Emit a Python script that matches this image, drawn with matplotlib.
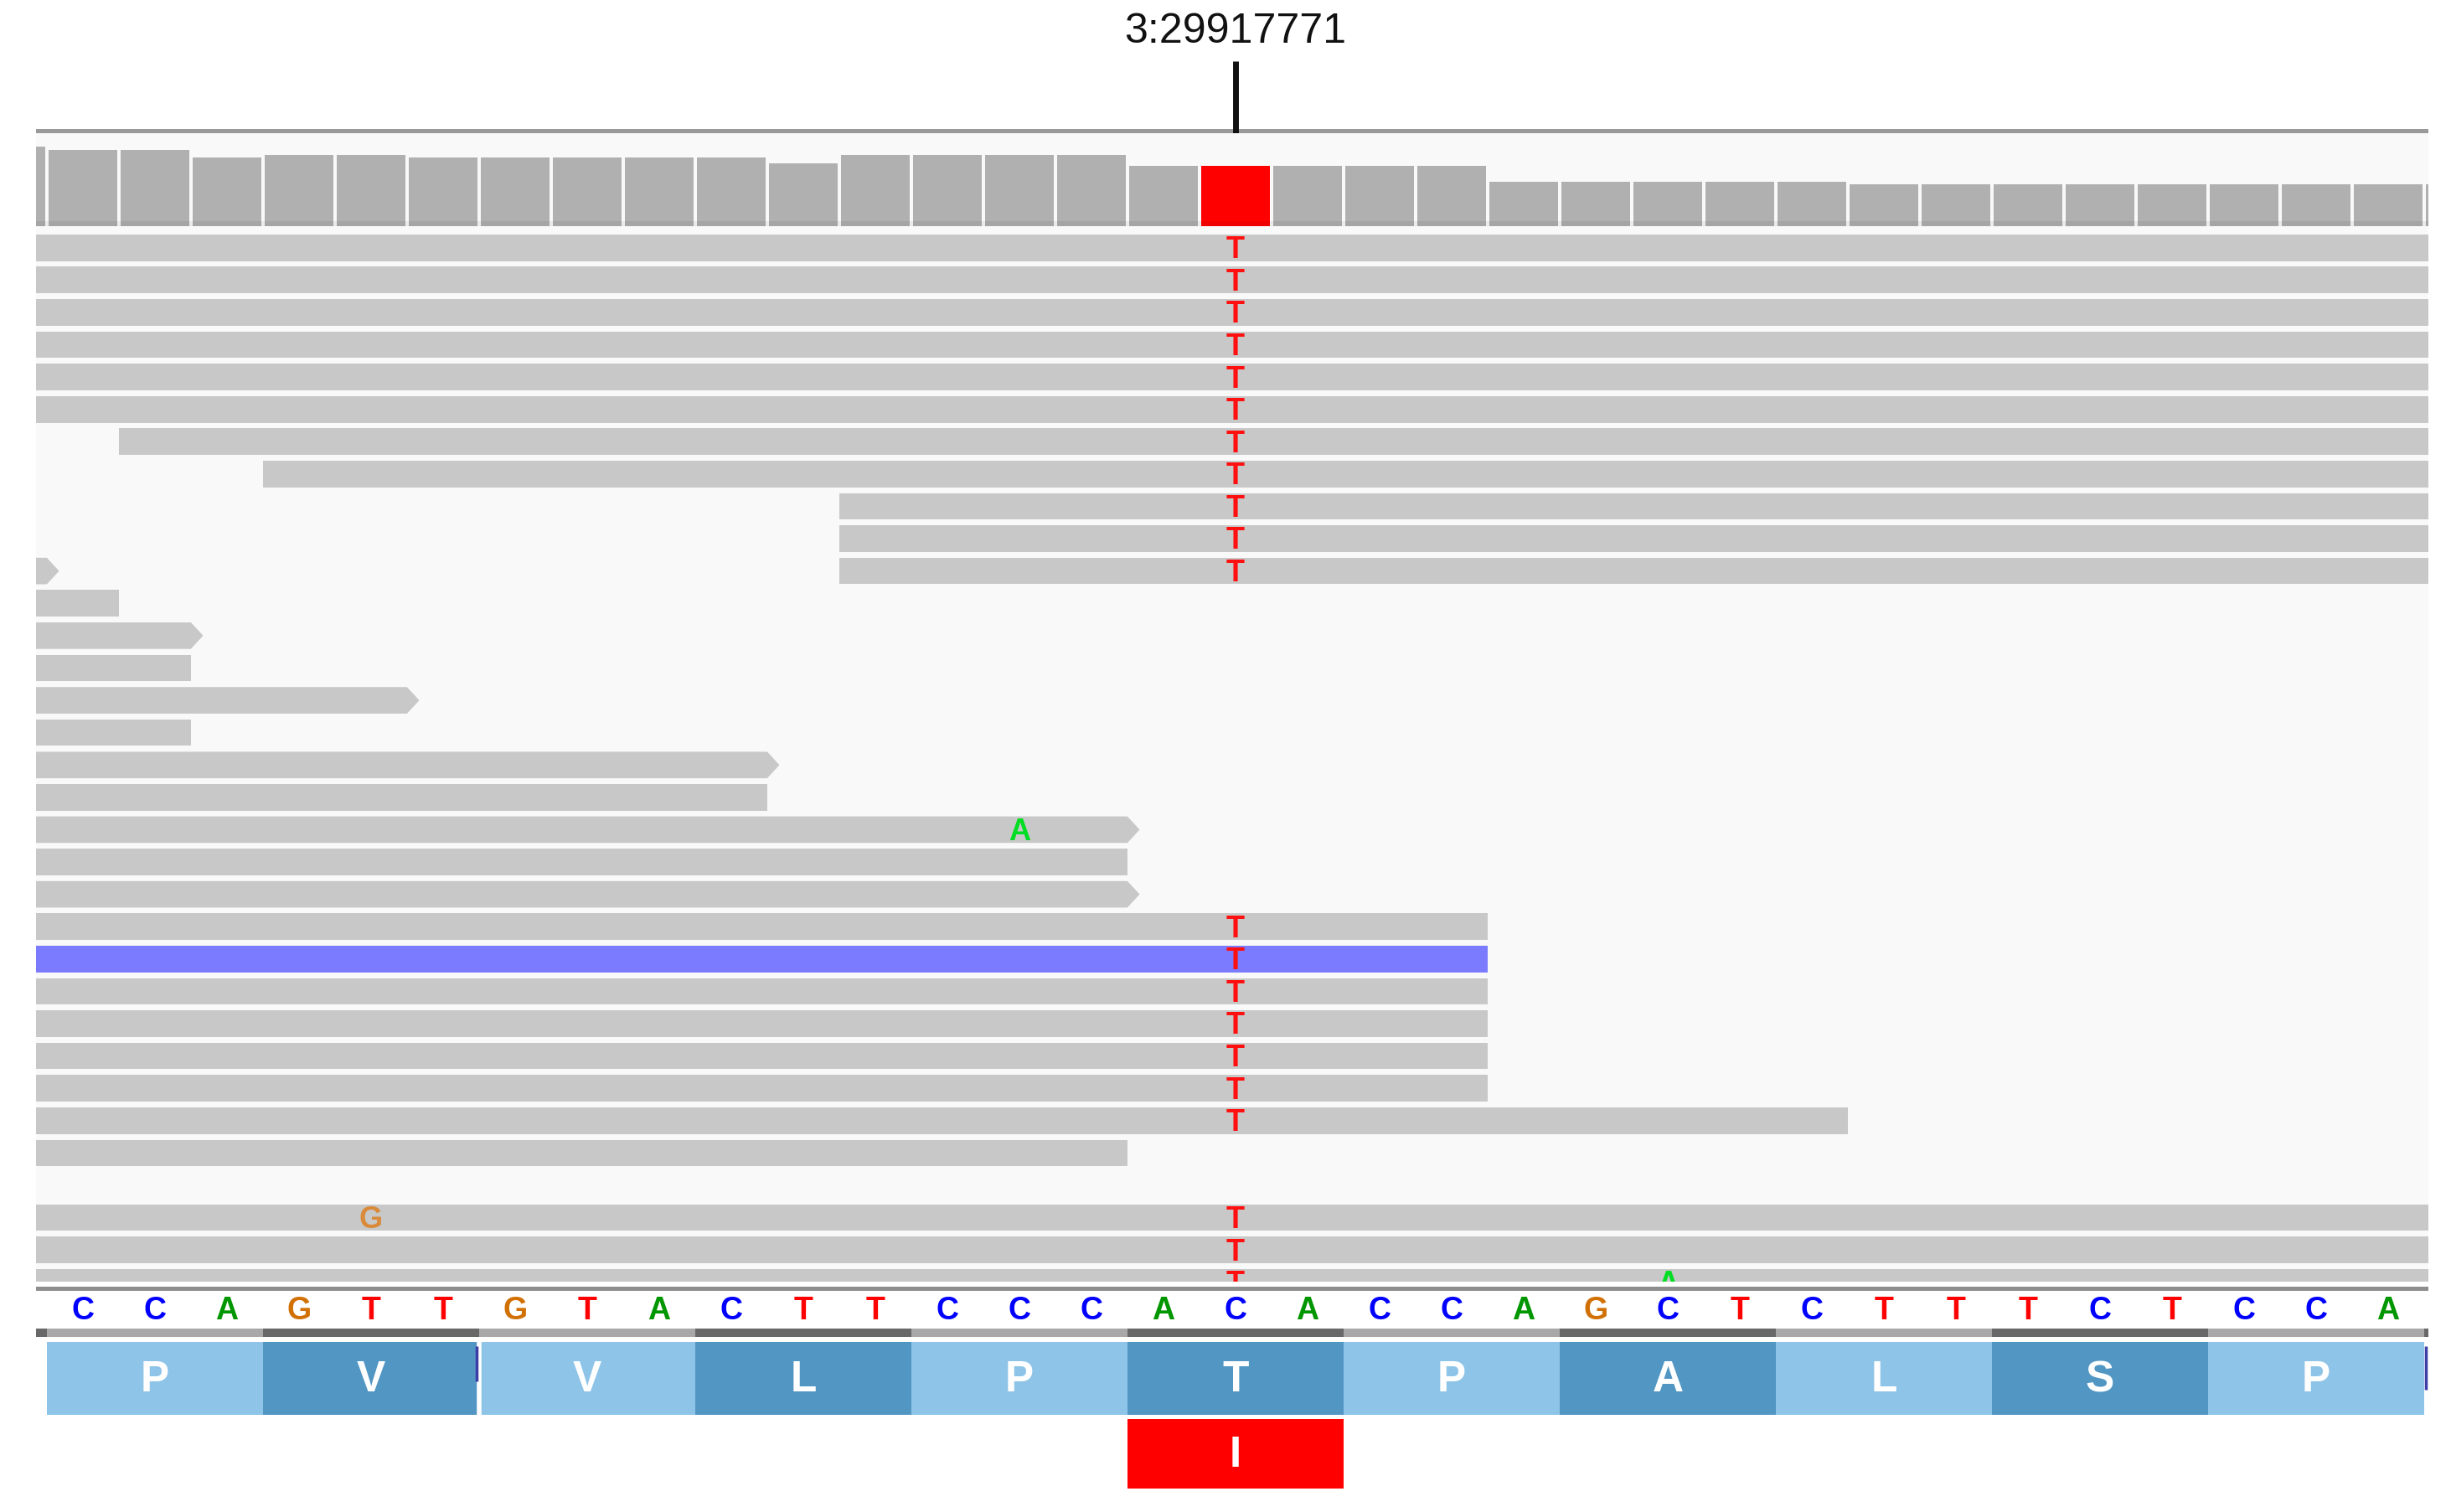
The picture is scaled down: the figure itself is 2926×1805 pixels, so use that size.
import numpy as np
import matplotlib
matplotlib.use('Agg')
import matplotlib.pyplot as plt
from matplotlib.patches import Rectangle, Polygon
from matplotlib import font_manager as fm

# ---- values ----
locus = '3:29917771'
variant_pos = 16                      # base index of the C>T site in the window
ref_seq = list('CCAGTTGTACTTCCCACACCAGCTCTTTCTCCA')
codons = ['P', 'V', 'V', 'L', 'P', 'T', 'P', 'A', 'L', 'S', 'P']
alt_aa = 'I'

# coverage per base, bases -1 .. 33 (first and last only partly in view)
cov_pos = list(range(-1, 34))
cov = [28, 27, 27, 24, 25, 25, 24, 24, 24, 24, 24, 22, 25, 25, 25, 25,
       21, 21, 21, 21, 21, 15, 15, 15, 15, 15, 14, 14, 14, 14, 14, 14, 14, 14, 14]

# reads: row, start, end (base units), -1 / 34 = runs past the window
read_row = [0, 1, 2, 3, 4, 5, 6, 7, 8, 9, 10, 10, 11, 12, 13, 14, 15, 16, 17,
            18, 19, 20, 21, 22, 23, 24, 25, 26, 27, 28, 30, 31, 32]
read_start = [-1, -1, -1, -1, -1, -1, 1, 3, 11, 11, -1, 11, -1, -1, -1, -1, -1,
              -1, -1, -1, -1, -1, -1, -1, -1, -1, -1, -1, -1, -1, -1, -1, -1]
read_end = [34, 34, 34, 34, 34, 34, 34, 34, 34, 34, 0, 34, 1, 2, 2, 5, 2, 10, 10,
            15, 15, 15, 20, 20, 20, 20, 20, 20, 25, 15, 34, 34, 34]
arrow_rows = [10, 12, 14, 16, 18, 20]  # forward reads whose end is in view
blue_row = 22

# mismatches in reads
t_rows = list(range(0, 11)) + list(range(21, 28)) + [30, 31, 32]
mm_row = t_rows + [18, 30, 32]
mm_pos = [variant_pos] * len(t_rows) + [13, 4, 22]
mm_base = ['T'] * len(t_rows) + ['A', 'G', 'A']

# ---- styling ----
W, H = 2926, 1806
X0, X1 = 43, 2899
XLIM = (-0.15, 33.06)
base_col = {'A': '#009600', 'C': '#0000ff', 'G': '#d17105', 'T': '#ff0000'}
mm_col = {'A': '#00dd22', 'G': '#d98a3a', 'T': '#ff1010'}
light_aa, dark_aa = '#8ec4e8', '#5296c4'

names = {f.name for f in fm.fontManager.ttflist}
if 'Liberation Sans Narrow' in names:
    narrow, k = 'Liberation Sans Narrow', 1.0
else:
    narrow, k = 'Liberation Sans', 0.84

fig = plt.figure(figsize=(W / 100, H / 100), dpi=100)
fig.patch.set_facecolor('white')


def px_axes(y0, y1, face):
    ax = fig.add_axes([X0 / W, 1 - y1 / H, (X1 - X0) / W, (y1 - y0) / H])
    ax.set_xlim(*XLIM)
    ax.set_facecolor(face)
    ax.set_xticks([])
    ax.set_yticks([])
    for s in ax.spines.values():
        s.set_visible(False)
    return ax


# locus label and marker
ax_top = px_axes(0, 160, 'white')
ax_top.set_ylim(160, 0)
ax_top.axhline(157, color='#9a9a9a', lw=3.6)
ax_top.text(variant_pos + 0.5, 38, locus, ha='center', va='center',
            family=narrow, fontsize=43 * k, color='#111111')
ax_top.plot([variant_pos + 0.5] * 2, [74, 160], color='#111111', lw=5,
            solid_capstyle='butt', clip_on=False, zorder=5)

# coverage track
ax_cov = px_axes(160, 271, '#f9f9f9')
ax_cov.set_ylim(-1.56, 33.1)
floor = ax_cov.get_ylim()[0]
cov_arr = np.array(cov)
bar_cols = ['#ff0000' if p == variant_pos else '#b0b0b0' for p in cov_pos]
ax_cov.bar(np.array(cov_pos) + 0.5, cov_arr - floor, bottom=floor, width=0.955,
           color=bar_cols, linewidth=0)
ax_cov.axhspan(floor, 0.4, color='#000000', alpha=0.06, lw=0)

# alignments
ax_rd = px_axes(271, 1531, '#f9f9f9')
ax_rd.set_ylim(31.98, -0.666)
h = 0.41
for r, s, e in zip(read_row, read_start, read_end):
    col = '#7b7bff' if r == blue_row else '#c8c8c8'
    if r in arrow_rows and e < 34:
        pts = [(s, r - h), (e, r - h), (e + 0.17, r), (e, r + h), (s, r + h)]
        ax_rd.add_patch(Polygon(pts, closed=True, fc=col, ec='none'))
    else:
        ax_rd.add_patch(Rectangle((s, r - h), e - s, 2 * h, fc=col, ec='none'))
for r, p, b in zip(mm_row, mm_pos, mm_base):
    ax_rd.text(p + 0.5, r + 0.05, b, ha='center', va='center', color=mm_col[b],
               family=narrow, fontweight='bold', fontsize=26, clip_on=True)

# reference sequence, gene line and translation
ax_bt = px_axes(1531, 1806, 'white')
ax_bt.set_ylim(1806, 1531)
ax_bt.axhline(1539, color='#8e8e8e', lw=3.6)
for i, b in enumerate(ref_seq):
    ax_bt.text(i + 0.5, 1565, b, ha='center', va='center', color=base_col[b],
               family=narrow, fontweight='bold', fontsize=27)

for c in range(-1, len(codons) + 1):
    gcol = '#686868' if c % 2 else '#a8a8a8'
    ax_bt.add_patch(Rectangle((3 * c, 1587), 3, 10, fc=gcol, ec='none'))

for c, aa in enumerate(codons):
    fc = dark_aa if c % 2 else light_aa
    ax_bt.add_patch(Rectangle((3 * c, 1603), 3, 87, fc=fc, ec='none'))
    ax_bt.text(3 * c + 1.5, 1648, aa, ha='center', va='center', color='white',
               family=narrow, fontweight='bold', fontsize=37)
# exon edge markers
ax_bt.plot([6, 6], [1603, 1690], color='white', lw=4, solid_capstyle='butt')
ax_bt.plot([5.97, 5.97], [1608, 1650], color='#3d3da8', lw=2.5, solid_capstyle='butt')
ax_bt.plot([33.03, 33.03], [1608, 1660], color='#3d3da8', lw=2.5, solid_capstyle='butt')

alt_codon = variant_pos // 3
ax_bt.add_patch(Rectangle((3 * alt_codon, 1695), 3, 83, fc='#ff0000', ec='none'))
ax_bt.text(3 * alt_codon + 1.5, 1738, alt_aa, ha='center', va='center',
           color='white', family=narrow, fontweight='bold', fontsize=37)

fig.savefig('out.png', dpi=100, facecolor='white')
